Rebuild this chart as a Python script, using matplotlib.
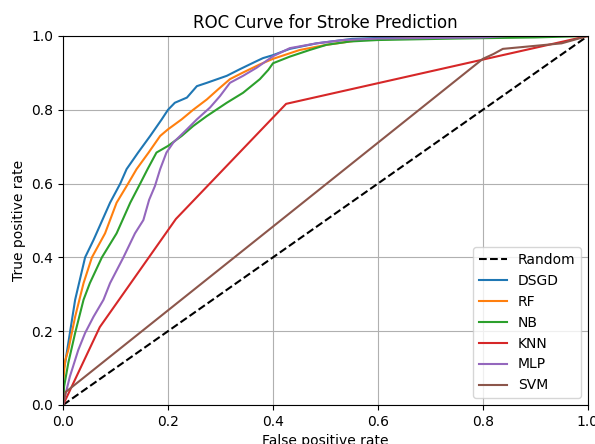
import numpy as np
import matplotlib
matplotlib.use('Agg')
import matplotlib.pyplot as plt

# ROC points (fpr, tpr)
DSGD_FPR = [0.0, 0.0, 0.004, 0.013, 0.023, 0.042, 0.058, 0.0895, 0.109, 0.121, 0.143, 0.166,
            0.188, 0.2, 0.213, 0.236, 0.255, 0.274, 0.312, 0.337, 0.369, 0.381, 0.4, 0.432,
            0.483, 0.55, 0.7, 1.0]
DSGD_TPR = [0.0, 0.09, 0.114, 0.195, 0.285, 0.4, 0.447, 0.548, 0.6, 0.639, 0.684, 0.729,
            0.774, 0.8, 0.819, 0.833, 0.864, 0.873, 0.892, 0.91, 0.932, 0.94, 0.948, 0.965,
            0.98, 0.992, 1.0, 1.0]

RF_FPR = [0.0, 0.0, 0.004, 0.01, 0.023, 0.039, 0.055, 0.08, 0.102, 0.124, 0.14, 0.163,
          0.185, 0.2, 0.226, 0.248, 0.274, 0.296, 0.318, 0.343, 0.375, 0.4, 0.451, 0.502,
          0.566, 0.7, 0.85, 1.0]
RF_TPR = [0.0, 0.06, 0.12, 0.149, 0.239, 0.33, 0.4, 0.465, 0.548, 0.6, 0.639, 0.684,
          0.729, 0.747, 0.774, 0.8, 0.828, 0.856, 0.883, 0.901, 0.923, 0.938, 0.962, 0.976,
          0.989, 0.995, 1.0, 1.0]

NB_FPR = [0.0, 0.002, 0.01, 0.023, 0.039, 0.051, 0.074, 0.102, 0.128, 0.147, 0.161, 0.178,
          0.2, 0.226, 0.248, 0.274, 0.312, 0.343, 0.375, 0.391, 0.4, 0.432, 0.47, 0.502,
          0.547, 0.6, 0.75, 0.9, 1.0]
NB_TPR = [0.0, 0.05, 0.114, 0.195, 0.285, 0.33, 0.4, 0.465, 0.548, 0.6, 0.639, 0.684,
          0.702, 0.729, 0.756, 0.783, 0.819, 0.846, 0.883, 0.908, 0.926, 0.944, 0.962, 0.976,
          0.985, 0.989, 0.993, 0.996, 1.0]

KNN_FPR = [0.0, 0.07, 0.215, 0.425, 1.0]
KNN_TPR = [0.0, 0.211, 0.504, 0.816, 1.0]

MLP_FPR = [0.0, 0.002, 0.013, 0.029, 0.042, 0.058, 0.077, 0.0895, 0.115, 0.137, 0.153, 0.164,
           0.175, 0.185, 0.197, 0.21, 0.236, 0.255, 0.28, 0.299, 0.318, 0.343, 0.369, 0.4,
           0.432, 0.483, 0.534, 0.6, 0.8, 0.85, 1.0]
MLP_TPR = [0.0, 0.014, 0.077, 0.149, 0.195, 0.239, 0.285, 0.33, 0.4, 0.465, 0.501, 0.556,
           0.593, 0.639, 0.684, 0.711, 0.747, 0.774, 0.806, 0.837, 0.873, 0.892, 0.914, 0.945,
           0.967, 0.98, 0.989, 0.993, 0.996, 1.0, 1.0]

SVM_FPR = [0.0, 0.005, 0.419, 0.8, 0.82, 0.838, 0.95, 1.0]
SVM_TPR = [0.0, 0.035, 0.505, 0.938, 0.951, 0.965, 0.98, 1.0]

fig, ax = plt.subplots(figsize=(5.95, 4.44), dpi=100)
fig.subplots_adjust(left=0.106, right=0.988, bottom=0.088, top=0.919)

ax.plot([0, 1], [0, 1], 'k--', linewidth=1.5, label='Random')
ax.plot(DSGD_FPR, DSGD_TPR, color='tab:blue', linewidth=1.5, label='DSGD')
ax.plot(RF_FPR, RF_TPR, color='tab:orange', linewidth=1.5, label='RF')
ax.plot(NB_FPR, NB_TPR, color='tab:green', linewidth=1.5, label='NB')
ax.plot(KNN_FPR, KNN_TPR, color='tab:red', linewidth=1.5, label='KNN')
ax.plot(MLP_FPR, MLP_TPR, color='tab:purple', linewidth=1.5, label='MLP')
ax.plot(SVM_FPR, SVM_TPR, color='tab:brown', linewidth=1.5, label='SVM')

ax.set_xlim(0, 1)
ax.set_ylim(0, 1)
ax.set_xlabel('False positive rate')
ax.set_ylabel('True positive rate')
ax.set_title('ROC Curve for Stroke Prediction')
ax.grid(True)
ax.legend(loc='lower right')

plt.savefig('out.png', dpi=100)
plt.close()
